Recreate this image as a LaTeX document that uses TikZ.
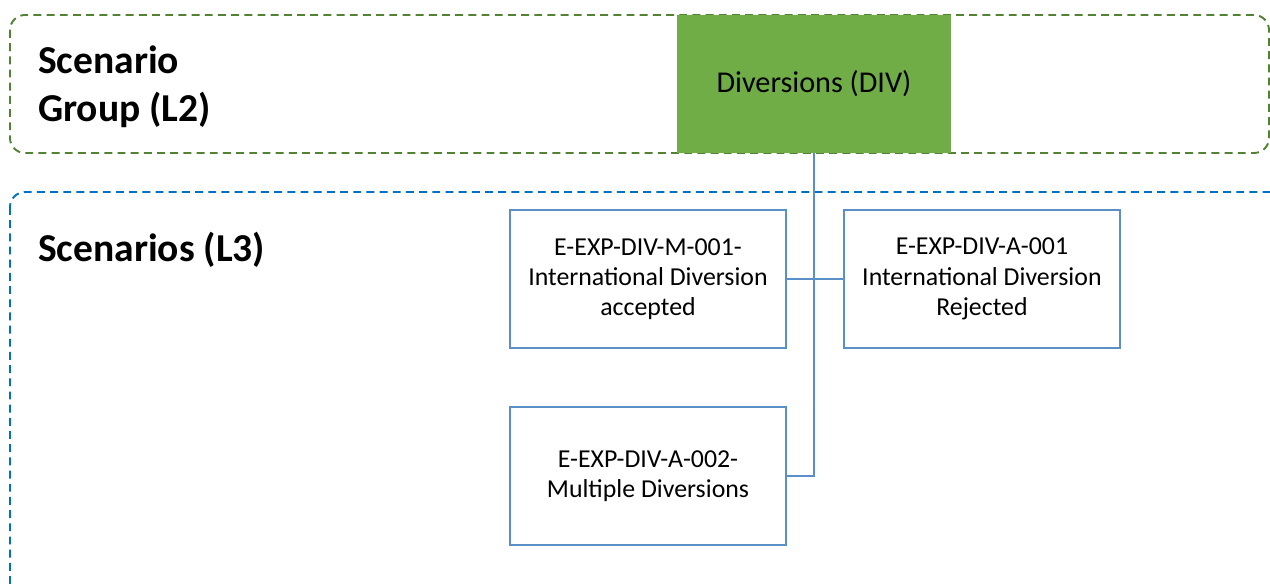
\documentclass[tikz,border=0pt]{standalone}
\usepackage{fontspec}
\setmainfont{Carlito}
\usepackage{tikz}
\usetikzlibrary{positioning}
\definecolor{grpgreen}{HTML}{70AD47}
\definecolor{grpline}{HTML}{548235}
\definecolor{scnline}{HTML}{0070C0}
\definecolor{boxline}{HTML}{5B8FC8}

\begin{document}
\begin{tikzpicture}[
    node distance=1.12cm,
    group/.style={rectangle, fill=grpgreen, minimum width=5.48cm, minimum height=2.76cm, align=center, font=\fontsize{17.2}{20}\selectfont},
    scen/.style={rectangle, draw=boxline, line width=1.1pt, minimum width=5.52cm, minimum height=2.76cm, align=center, font=\fontsize{14.7}{17.2}\selectfont},
    heading/.style={anchor=west, align=left, font=\fontsize{22.5}{27.5}\selectfont\bfseries},
    link/.style={draw=boxline, line width=1.1pt},
    frame/.style={dash pattern=on 4.5pt off 3pt, line width=1.1pt, rounded corners=0.3cm}
]
    \clip (0,0) rectangle (25.4,-11.66);

    % level frames
    \draw[frame, grpline] (0.2,-0.3) rectangle (25.38,-3.06);
    \draw[frame, scnline] (0.2,-3.84) rectangle (26,-13);

    % level headings
    \node[heading] (l2) at (0.64,-1.74) {Scenario\\Group (L2)};
    \node[heading] (l3) at (0.64,-5.0) {Scenarios (L3)};

    % scenario group
    \node[group] (div) at (16.28,-1.68) {Diversions (DIV)};

    % scenarios
    \node[scen] (m001) at (12.96,-5.58) {E-EXP-DIV-M-001-\\International Diversion\\accepted};
    \node[scen, right=of m001] (a001) {E-EXP-DIV-A-001\\International Diversion\\Rejected};
    \node[scen, below=1.14cm of m001] (a002) {E-EXP-DIV-A-002-\\Multiple Diversions};

    % links
    \draw[link] (div.south) -- (div.south |- a002.east) -- (a002.east);
    \draw[link] (m001.east) -- (a001.west);
\end{tikzpicture}
\end{document}
